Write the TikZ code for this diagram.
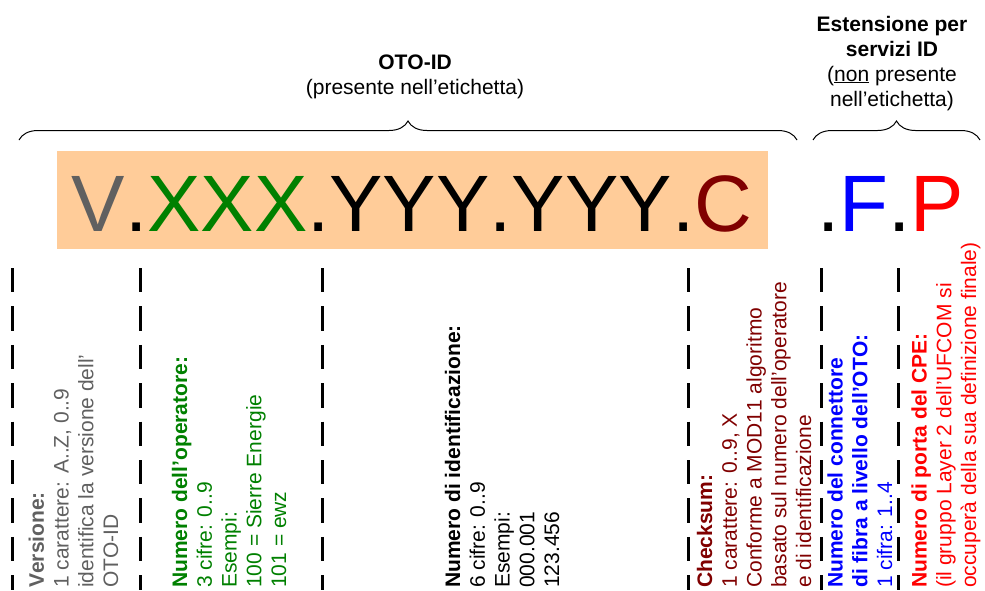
\documentclass[tikz,border=0pt]{standalone}
\usepackage{fontspec}
\setmainfont{Liberation Sans}[Kerning=Off]
\usetikzlibrary{decorations.pathreplacing}
\definecolor{peach}{HTML}{FFCC99}
\definecolor{vgray}{HTML}{606060}
\definecolor{opgreen}{HTML}{008000}
\definecolor{ckred}{HTML}{800000}
\definecolor{fblue}{HTML}{0000FF}
\definecolor{pred}{HTML}{FF0000}
\begin{document}
\begin{tikzpicture}[x=1pt,y=-1pt,
  lbl/.style={align=center,inner sep=0pt,anchor=base,font=\fontsize{21}{25}\selectfont},
  col/.style={rotate=90,anchor=base west,align=left,inner sep=0pt,font=\fontsize{21}{24.7}\selectfont},
  big/.style={anchor=base west,inner sep=0pt,font=\fontsize{80}{90}\selectfont},
  sepline/.style={line width=3pt,dash pattern=on 24.4pt off 14pt},
  brc/.style={decorate,decoration={brace,amplitude=19pt},line width=1pt}]
\useasboundingbox (0,0) rectangle (985,590);
\coordinate (b1l) at (19,140);
\coordinate (b1r) at (797,140);
\coordinate (b2l) at (813,140);
\coordinate (b2r) at (980,140);
\draw[brc] (b1l) -- (b1r);
\draw[brc] (b2l) -- (b2r);
% base anchor = baseline of the last line
\node[lbl] (otoid) at (415,94) {\textbf{OTO-ID}\\(presente nell’etichetta)};
\node[lbl] (ext) at (892,106) {\textbf{Estensione per}\\\textbf{servizi ID}\\(\underline{non} presente\\nell’etichetta)};
\fill[peach] (57,151) rectangle (768,249);
\node[big] (otocode) at (71.5,231) {\textcolor{vgray}{V}.\textcolor{opgreen}{XXX}.YYY.YYY.\textcolor{ckred}{C}};
\node[big] (extcode) at (817,231) {.\textcolor{fblue}{F}.\textcolor{pred}{P}};
\foreach \x in {12,140,322,688,821,898}
  \draw[sepline] (\x,268) -- (\x,590);
\node[col,text=vgray] (ver) at (118,588) {\textbf{Versione:}\\1 carattere: A..Z, 0..9\\identifica la versione dell’\\OTO-ID};
\node[col,text=opgreen] (oper) at (286,588) {\textbf{Numero dell’operatore:}\\3 cifre: 0..9\\Esempi:\\100 = Sierre Energie\\101 = ewz};
\node[col] (ident) at (559,588) {\textbf{Numero di identificazione:}\\6 cifre: 0..9\\Esempi:\\000.001\\123.456};
\node[col,text=ckred] (check) at (811,588) {\textbf{Checksum:}\\1 carattere: 0..9, X\\Conforme a MOD11 algoritmo\\basato sul numero dell’operatore\\e di identificazione};
\node[col,text=fblue] (fibra) at (892,588) {\textbf{Numero del connettore}\\\textbf{di fibra a livello dell’OTO:}\\1 cifra: 1..4};
\node[col,text=pred] (porta) at (976,588) {\textbf{Numero di porta del CPE:}\\(il gruppo Layer 2 dell’UFCOM si\\occuperà della sua definizione finale)};
\end{tikzpicture}
\end{document}
